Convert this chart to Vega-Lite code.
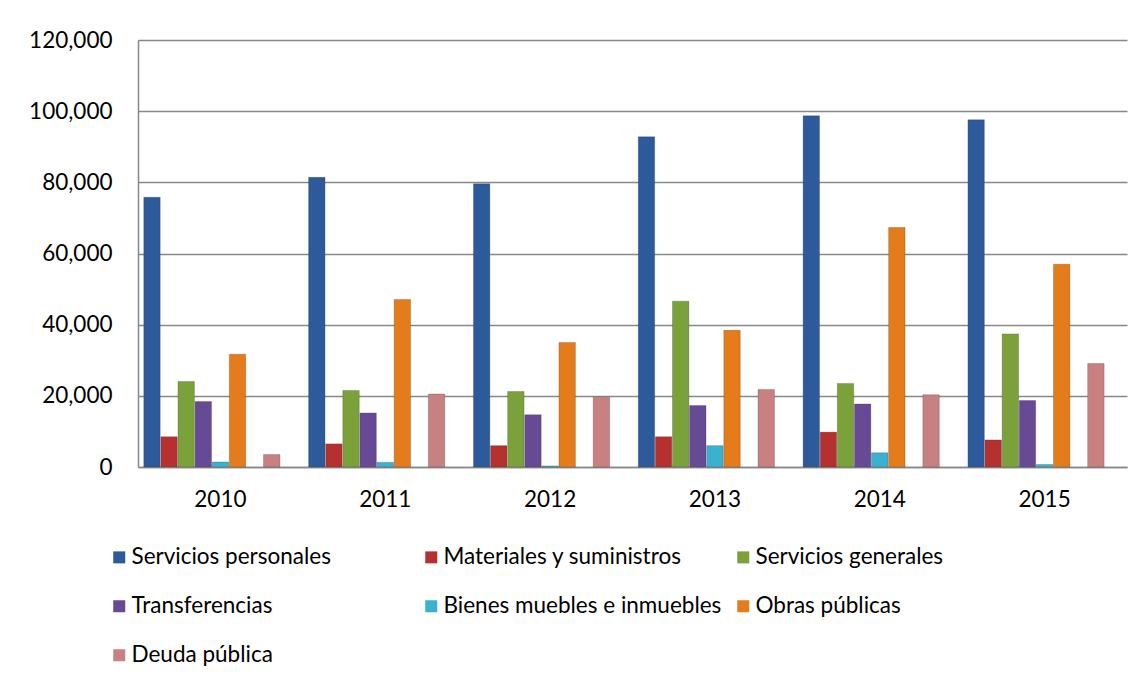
{
  "$schema": "https://vega.github.io/schema/vega-lite/v6.json",
  "width": 989,
  "height": 427,
  "autosize": {"type": "none"},
  "padding": {"left": 138, "top": 40, "right": 14, "bottom": 219},
  "background": "white",
  "config": {
    "font": "Lato",
    "view": {"stroke": null},
    "axis": {"labelFont": "Lato", "labelFontSize": 22.5, "labelColor": "#000000"}
  },
  "data": {
    "values": [
      {"year": "2010", "cat": "Servicios personales", "v": 75800},
      {"year": "2010", "cat": "Materiales y suministros", "v": 8500},
      {"year": "2010", "cat": "Servicios generales", "v": 24000},
      {"year": "2010", "cat": "Transferencias", "v": 18400},
      {"year": "2010", "cat": "Bienes muebles e inmuebles", "v": 1400},
      {"year": "2010", "cat": "Obras públicas", "v": 31700},
      {"year": "2010", "cat": "Deuda pública", "v": 3500},
      {"year": "2011", "cat": "Servicios personales", "v": 81400},
      {"year": "2011", "cat": "Materiales y suministros", "v": 6500},
      {"year": "2011", "cat": "Servicios generales", "v": 21500},
      {"year": "2011", "cat": "Transferencias", "v": 15200},
      {"year": "2011", "cat": "Bienes muebles e inmuebles", "v": 1300},
      {"year": "2011", "cat": "Obras públicas", "v": 47100},
      {"year": "2011", "cat": "Deuda pública", "v": 20500},
      {"year": "2012", "cat": "Servicios personales", "v": 79600},
      {"year": "2012", "cat": "Materiales y suministros", "v": 6000},
      {"year": "2012", "cat": "Servicios generales", "v": 21200},
      {"year": "2012", "cat": "Transferencias", "v": 14700},
      {"year": "2012", "cat": "Bienes muebles e inmuebles", "v": 300},
      {"year": "2012", "cat": "Obras públicas", "v": 35000},
      {"year": "2012", "cat": "Deuda pública", "v": 19600},
      {"year": "2013", "cat": "Servicios personales", "v": 92800},
      {"year": "2013", "cat": "Materiales y suministros", "v": 8500},
      {"year": "2013", "cat": "Servicios generales", "v": 46600},
      {"year": "2013", "cat": "Transferencias", "v": 17300},
      {"year": "2013", "cat": "Bienes muebles e inmuebles", "v": 6000},
      {"year": "2013", "cat": "Obras públicas", "v": 38400},
      {"year": "2013", "cat": "Deuda pública", "v": 21800},
      {"year": "2014", "cat": "Servicios personales", "v": 98700},
      {"year": "2014", "cat": "Materiales y suministros", "v": 9800},
      {"year": "2014", "cat": "Servicios generales", "v": 23500},
      {"year": "2014", "cat": "Transferencias", "v": 17700},
      {"year": "2014", "cat": "Bienes muebles e inmuebles", "v": 4000},
      {"year": "2014", "cat": "Obras públicas", "v": 67300},
      {"year": "2014", "cat": "Deuda pública", "v": 20300},
      {"year": "2015", "cat": "Servicios personales", "v": 97600},
      {"year": "2015", "cat": "Materiales y suministros", "v": 7600},
      {"year": "2015", "cat": "Servicios generales", "v": 37400},
      {"year": "2015", "cat": "Transferencias", "v": 18700},
      {"year": "2015", "cat": "Bienes muebles e inmuebles", "v": 700},
      {"year": "2015", "cat": "Obras públicas", "v": 57000},
      {"year": "2015", "cat": "Deuda pública", "v": 29100}
    ]
  },
  "mark": {"type": "bar", "stroke": "#333333", "strokeOpacity": 0.25, "strokeWidth": 1},
  "encoding": {
    "x": {
      "field": "year", "type": "nominal", "title": null,
      "scale": {"paddingInner": 0.07, "paddingOuter": 0.035},
      "axis": {"labelAngle": 0, "ticks": false, "domainColor": "#888888", "domainWidth": 1.5, "labelPadding": 21}
    },
    "xOffset": {
      "field": "cat", "type": "nominal",
      "scale": {
        "domain": ["Servicios personales", "Materiales y suministros", "Servicios generales", "Transferencias", "Bienes muebles e inmuebles", "Obras públicas", "_gap1", "Deuda pública", "_gap2"],
        "paddingInner": 0.04
      }
    },
    "y": {
      "field": "v", "type": "quantitative", "title": null,
      "scale": {"domain": [0, 120000]},
      "axis": {"values": [0, 20000, 40000, 60000, 80000, 100000, 120000], "format": ",d", "ticks": false, "labelPadding": 26, "gridColor": "#888888", "gridWidth": 1.5, "domainColor": "#888888", "domainWidth": 1.5}
    },
    "color": {
      "field": "cat", "type": "nominal",
      "scale": {
        "domain": ["Servicios personales", "Materiales y suministros", "Servicios generales", "Transferencias", "Bienes muebles e inmuebles", "Obras públicas", "Deuda pública"],
        "range": ["#2C5A9A", "#B5302E", "#7BA23A", "#674A96", "#3AB2CF", "#E57C1B", "#C98080"]
      },
      "legend": {
        "title": null, "orient": "none", "legendX": -30, "legendY": 506,
        "direction": "horizontal", "columns": 3, "gridAlign": "all",
        "symbolType": "square", "symbolSize": 144, "symbolStrokeWidth": 0,
        "labelFont": "Lato", "labelFontSize": 22.5, "labelColor": "#000000", "labelOffset": 1, "labelLimit": 400,
        "rowPadding": 26, "columnPadding": 10, "padding": 0
      }
    }
  }
}
